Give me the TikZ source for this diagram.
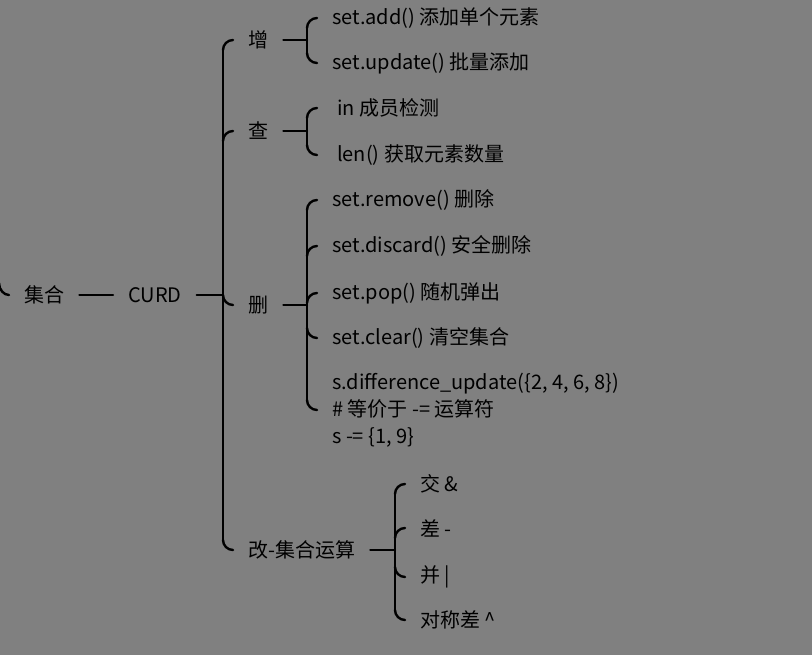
\documentclass[tikz,border=0pt]{standalone}
\usepackage{fontspec}
\setmainfont{Noto Sans CJK SC}
\usetikzlibrary{calc}
\definecolor{bg}{HTML}{808080}
\tikzset{
  ln/.style={line width=2.4pt, black, line cap=round},
  txt/.style={anchor=west, inner xsep=15pt, inner ysep=2pt, text=black,
    font=\fontsize{20pt}{27pt}\selectfont},
}
% hook from the bus (10 left of the child) to the child's west side
% #1 child, #2 vertical offset of the start (+10 from below, -10 from above)
\newcommand\hookto[2]{\draw[ln] ($(#1.west)+(-10,#2)$) .. controls ($(#1.west)+(-10,0.45*#2)$) and ($(#1.west)+(-5.5,0)$) .. (#1.west);}
\newcommand\busline[2]{\draw[ln] ($(#1.west)+(-10,10)$) -- ($(#2.west)+(-10,-10)$);}
\newcommand\feed[2]{\draw[ln] (#1.east) -- ($(#1.east -| #2.west)+(-10,0)$);}
\begin{document}
\begin{tikzpicture}[x=1pt,y=-1pt]
\fill[bg] (0,0) rectangle (812,655);
\useasboundingbox (0,0) rectangle (812,655);

% level 0
\node[txt] (jihe) at (9,295) {集合};
\node[txt] (curd) at (113,295) {CURD};
\coordinate (lp) at (-1,283);
\draw[ln] (lp) .. controls (-1,290) and (4,295) .. (jihe.west);
\draw[ln] (jihe.east) -- (curd.west);

% level 1
\node[txt] (zeng) at (233,40) {增};
\node[txt] (cha) at (233,131) {查};
\node[txt] (shan) at (233,305) {删};
\node[txt] (gai) at (233,550) {改-集合运算};
\feed{curd}{zeng}
\busline{zeng}{gai}
\hookto{zeng}{10}
\hookto{cha}{10}
\hookto{shan}{-10}
\hookto{gai}{-10}

% 增
\node[txt] (add) at (317,18) {set.add() 添加单个元素};
\node[txt] (upd) at (317,63) {set.update() 批量添加};
\feed{zeng}{add}
\busline{add}{upd}
\hookto{add}{10}
\hookto{upd}{-10}

% 查
\node[txt] (in) at (317,108) {\hspace*{5pt}in 成员检测};
\node[txt] (len) at (317,155) {\hspace*{5pt}len() 获取元素数量};
\feed{cha}{in}
\busline{in}{len}
\hookto{in}{10}
\hookto{len}{-10}

% 删
\node[txt] (rem) at (317,200) {set.remove() 删除};
\node[txt] (dis) at (317,246) {set.discard() 安全删除};
\node[txt] (pop) at (317,293) {set.pop() 随机弹出};
\node[txt] (clr) at (317,338) {set.clear() 清空集合};
\node[txt, align=left] (diff) at (317,410) {s.difference\_update(\{2, 4, 6, 8\})\\\# 等价于 -= 运算符\\s -= \{1, 9\}};
\feed{shan}{rem}
\busline{rem}{diff}
\hookto{rem}{10}
\hookto{dis}{10}
\hookto{pop}{10}
\hookto{clr}{-10}
\hookto{diff}{-10}

% 改
\node[txt] (jiao) at (405,484) {交 \&};
\node[txt] (cha2) at (405,528) {差 -};
\node[txt] (bing) at (405,577) {并 \textbar};
\node[txt] (dui) at (405,620) {对称差 \textasciicircum};
\feed{gai}{jiao}
\busline{jiao}{dui}
\hookto{jiao}{10}
\hookto{cha2}{10}
\hookto{bing}{-10}
\hookto{dui}{-10}
\end{tikzpicture}
\end{document}
